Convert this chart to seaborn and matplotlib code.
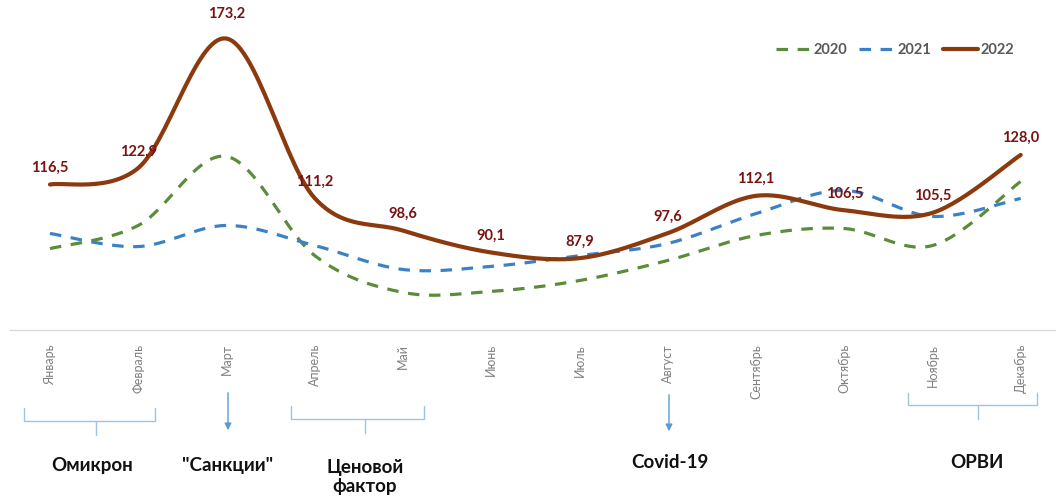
import numpy as np
import pandas as pd
import matplotlib
matplotlib.use("Agg")
import matplotlib.pyplot as plt
import seaborn as sns

months = ["Январь", "Февраль", "Март", "Апрель", "Май", "Июнь", "Июль",
          "Август", "Сентябрь", "Октябрь", "Ноябрь", "Декабрь"]
v2020 = [91.6, 100.6, 127.4, 88.9, 74.6, 75.0, 79.2, 87.0, 96.7, 99.4, 92.8, 117.7]
v2021 = [97.5, 92.4, 100.6, 92.8, 83.5, 84.7, 88.9, 93.6, 105.2, 114.2, 104.1, 111.1]
v2022 = [116.5, 122.9, 173.2, 111.2, 98.6, 90.1, 87.9, 97.6, 112.1, 106.5, 105.5, 128.0]
series_names = ["2020", "2021", "2022"]

factor_labels = ["Омикрон", "\"Санкции\"", "Ценовой\nфактор", "Covid-19", "ОРВИ"]

sns.set_theme(style="white")
plt.rcParams["font.family"] = ["Lato", "DejaVu Sans"]


def smooth(y, n=30):
    """Excel-like smoothed line (Catmull-Rom Bezier)."""
    y = np.asarray(y, float)
    x = np.arange(len(y), dtype=float)
    px = np.concatenate([[x[0]], x, [x[-1]]])
    py = np.concatenate([[y[0]], y, [y[-1]]])
    xs, ys = [], []
    for i in range(len(y) - 1):
        p0x, p1x, p2x, p3x = px[i:i + 4]
        p0y, p1y, p2y, p3y = py[i:i + 4]
        c1x, c1y = p1x + (p2x - p0x) / 6, p1y + (p2y - p0y) / 6
        c2x, c2y = p2x - (p3x - p1x) / 6, p2y - (p3y - p1y) / 6
        t = np.linspace(0, 1, n, endpoint=(i == len(y) - 2))
        b0, b1, b2, b3 = (1 - t) ** 3, 3 * (1 - t) ** 2 * t, 3 * (1 - t) * t ** 2, t ** 3
        xs.append(b0 * p1x + b1 * c1x + b2 * c2x + b3 * p2x)
        ys.append(b0 * p1y + b1 * c1y + b2 * c2y + b3 * p2y)
    return np.concatenate(xs), np.concatenate(ys)


W, H = 1056, 499
fig = plt.figure(figsize=(W / 100, H / 100), dpi=100)
ax = fig.add_axes([10 / W, (H - 330) / H, 1046 / W, 309 / H])

colors = {"2020": "#5b8c3a", "2021": "#3a82c8", "2022": "#8b3a0e"}
widths = {"2020": 2.3, "2021": 2.3, "2022": 3.0}
dash = {"2020": (3.6, 3.0), "2021": (3.6, 3.0), "2022": None}

for name, vals in zip(series_names, [v2020, v2021, v2022]):
    sx, sy = smooth(vals)
    df = pd.DataFrame({"x": sx, "y": sy})
    sns.lineplot(data=df, x="x", y="y", ax=ax, color=colors[name],
                 linewidth=widths[name], label=name, sort=False,
                 solid_capstyle="round", dash_capstyle="butt")
    if dash[name] is not None:
        ax.lines[-1].set_dashes(dash[name])

for i, v in enumerate(v2022):
    off = 18 if v == max(v2022) else 12
    ax.annotate(f"{v:.1f}".replace(".", ","), (i, v), xytext=(0, off),
                textcoords="offset points", ha="center", va="center",
                fontsize=10.5, fontweight="bold", color="#7a1212")

ax.set_xlim(-0.453, 11.40)
ax.set_ylim(60, 180)
ax.set_xticks(range(len(months)))
ax.set_xticklabels(months, rotation=90, fontsize=9, color="#808080")
ax.tick_params(axis="x", length=0, pad=10)
ax.set_yticks([])
ax.set_xlabel("")
ax.set_ylabel("")
for s in ["top", "left", "right"]:
    ax.spines[s].set_visible(False)
ax.spines["bottom"].set_color("#d9d9d9")
ax.spines["bottom"].set_linewidth(1.0)

handles, labels = ax.get_legend_handles_labels()
leg = ax.legend(handles, labels, loc="center",
                bbox_to_anchor=(895 / W, 1 - 50 / H), bbox_transform=fig.transFigure,
                ncol=3, frameon=False, handlelength=2.4, columnspacing=0.8,
                handletextpad=0.2, prop={"weight": "bold", "size": 10.5})
for t in leg.get_texts():
    t.set_color("#595959")

# bottom annotations (figure pixel coords, top-origin)
bc = "#9dc3e6"


def fx(px):
    return px / W


def fy(py):
    return 1 - py / H


def brace(x0, x1, ytop, ymid, ybot, xm):
    xs = [x0, x0, x1, x1]
    ys = [ytop, ymid, ymid, ytop]
    fig.add_artist(plt.Line2D([fx(v) for v in xs], [fy(v) for v in ys],
                              color=bc, lw=1.0, transform=fig.transFigure))
    fig.add_artist(plt.Line2D([fx(xm), fx(xm)], [fy(ymid), fy(ybot)],
                              color=bc, lw=1.0, transform=fig.transFigure))


def arrow(x, y0, y1):
    fig.add_artist(matplotlib.patches.FancyArrowPatch(
        (fx(x), fy(y0)), (fx(x), fy(y1)), transform=fig.transFigure,
        arrowstyle="-|>,head_length=4,head_width=2", color="#5b9bd5", lw=1.0,
        mutation_scale=1))


brace(24, 155, 408, 421, 435, 96)
arrow(228, 390, 433)
brace(291, 424, 406, 419, 433, 365)
arrow(669, 392, 434)
brace(908, 1037, 393, 405, 419, 978)

label_pos = [(92, 465), (228, 465), (365, 477), (670, 463), (977, 463)]
for txt, (x, y) in zip(factor_labels, label_pos):
    fig.text(fx(x), fy(y), txt, ha="center", va="center", fontsize=13.5,
             fontweight="bold", color="#111111", linespacing=1.2)

fig.savefig("out.png", dpi=100)
